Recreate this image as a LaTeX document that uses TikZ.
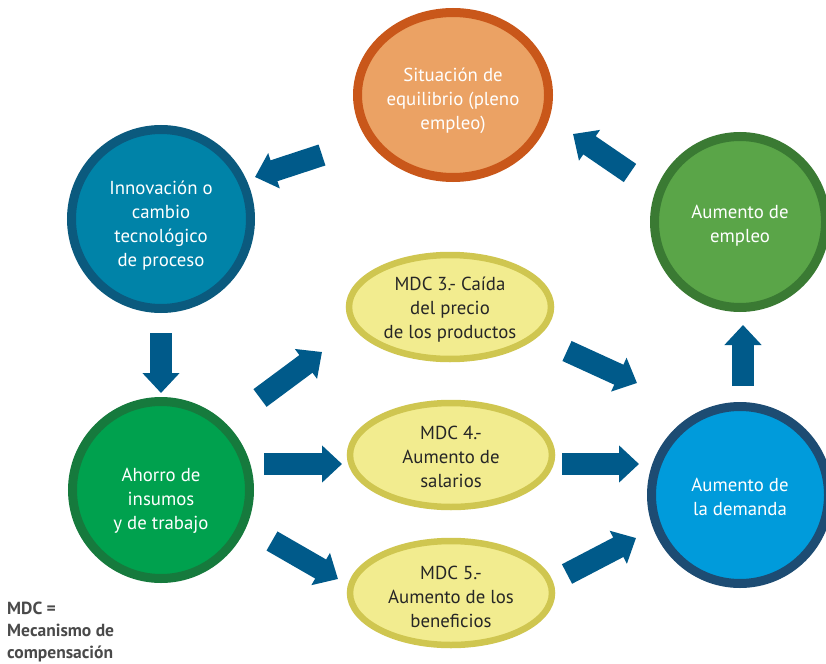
\documentclass[tikz,border=0pt]{standalone}
\usepackage{fontspec}
\setmainfont{PT Sans}
\usetikzlibrary{shapes.geometric,arrows.meta}

\definecolor{sitfill}{HTML}{EBA264}
\definecolor{sitring}{HTML}{C9571A}
\definecolor{innovfill}{HTML}{0083A8}
\definecolor{innovring}{HTML}{0B5A7E}
\definecolor{empfill}{HTML}{5AA548}
\definecolor{empring}{HTML}{3A7A33}
\definecolor{ahofill}{HTML}{00A14E}
\definecolor{ahoring}{HTML}{167A3D}
\definecolor{demfill}{HTML}{009BDB}
\definecolor{demring}{HTML}{1D4C73}
\definecolor{mdcfill}{HTML}{F2EC8F}
\definecolor{mdcring}{HTML}{CFC650}
\definecolor{arrowblue}{HTML}{005A8A}
\definecolor{notegray}{HTML}{4A4A4A}

% strut invisible que baja el texto
\newcommand{\bajar}[1]{\rule{0pt}{#1}}

\tikzset{
    stage/.style={circle,draw,line width=9pt,inner sep=0pt,text=white,align=center,
        font=\fontsize{18.8}{24}\selectfont},
    mdc/.style={ellipse,draw=mdcring,fill=mdcfill,line width=6.5pt,inner sep=0pt,
        minimum width=202pt,minimum height=104pt,align=center,text=black!85,
        font=\fontsize{18.8}{24}\selectfont},
    bigarrow/.style={draw=arrowblue,line width=22pt,-{Triangle[width=36pt,length=20pt]}}
}

\begin{document}
\begin{tikzpicture}[x=1pt,y=-1pt]
    \useasboundingbox (0,0) rectangle (826,663);

    % circulo externo
    \node[stage,ellipse,fill=sitfill,draw=sitring,minimum width=191pt,minimum height=165pt] (sit) at (453,95) {\bajar{25pt}Situación de\\equilibrio (pleno\\empleo)};
    \node[stage,fill=innovfill,draw=innovring,minimum size=179pt] (innov) at (161,219) {\bajar{26pt}Innovación o\\cambio\\tecnológico\\de proceso};
    \node[stage,fill=empfill,draw=empring,minimum size=171pt] (empleo) at (740,222) {\bajar{21pt}Aumento de\\empleo};
    \node[stage,fill=ahofill,draw=ahoring,minimum size=177pt] (ahorro) at (161,490) {\bajar{35pt}Ahorro de\\insumos\\y de trabajo};
    \node[stage,fill=demfill,draw=demring,minimum size=177pt] (demanda) at (740,495) {\bajar{17pt}Aumento de\\la demanda};

    % mecanismos de compensacion
    \node[mdc] (mdc3) at (450,307) {\bajar{18pt}MDC 3.- Caída\\del precio\\de los productos};
    \node[mdc] (mdc4) at (451,455) {\bajar{18pt}MDC 4.-\\Aumento de\\salarios};
    \node[mdc] (mdc5) at (451,593) {\bajar{21pt}MDC 5.-\\Aumento de los\\beneficios};

    % flechas
    \coordinate (t1) at (322,155);  \coordinate (h1) at (255,177);
    \coordinate (t2) at (161,333);  \coordinate (h2) at (161,393);
    \coordinate (t3) at (260,398);  \coordinate (h3) at (322,352);
    \coordinate (t4) at (264,464);  \coordinate (h4) at (342,464);
    \coordinate (t5) at (272,541);  \coordinate (h5) at (338,579);
    \coordinate (t6) at (567,351);  \coordinate (h6) at (637,383);
    \coordinate (t7) at (562,464);  \coordinate (h7) at (639,464);
    \coordinate (t8) at (567,574);  \coordinate (h8) at (636,538);
    \coordinate (t9) at (743,386);  \coordinate (h9) at (743,325);
    \coordinate (t10) at (630,173); \coordinate (h10) at (573,134);
    \foreach \i in {1,...,10}
    {
        \draw[bigarrow] (t\i) -- (h\i);
    }

    \node[anchor=north west,inner sep=0pt,align=left,text=notegray,
        font=\fontsize{17.5}{22}\bfseries\selectfont] (nota) at (7,602) {MDC =\\Mecanismo de\\compensación};
\end{tikzpicture}
\end{document}
